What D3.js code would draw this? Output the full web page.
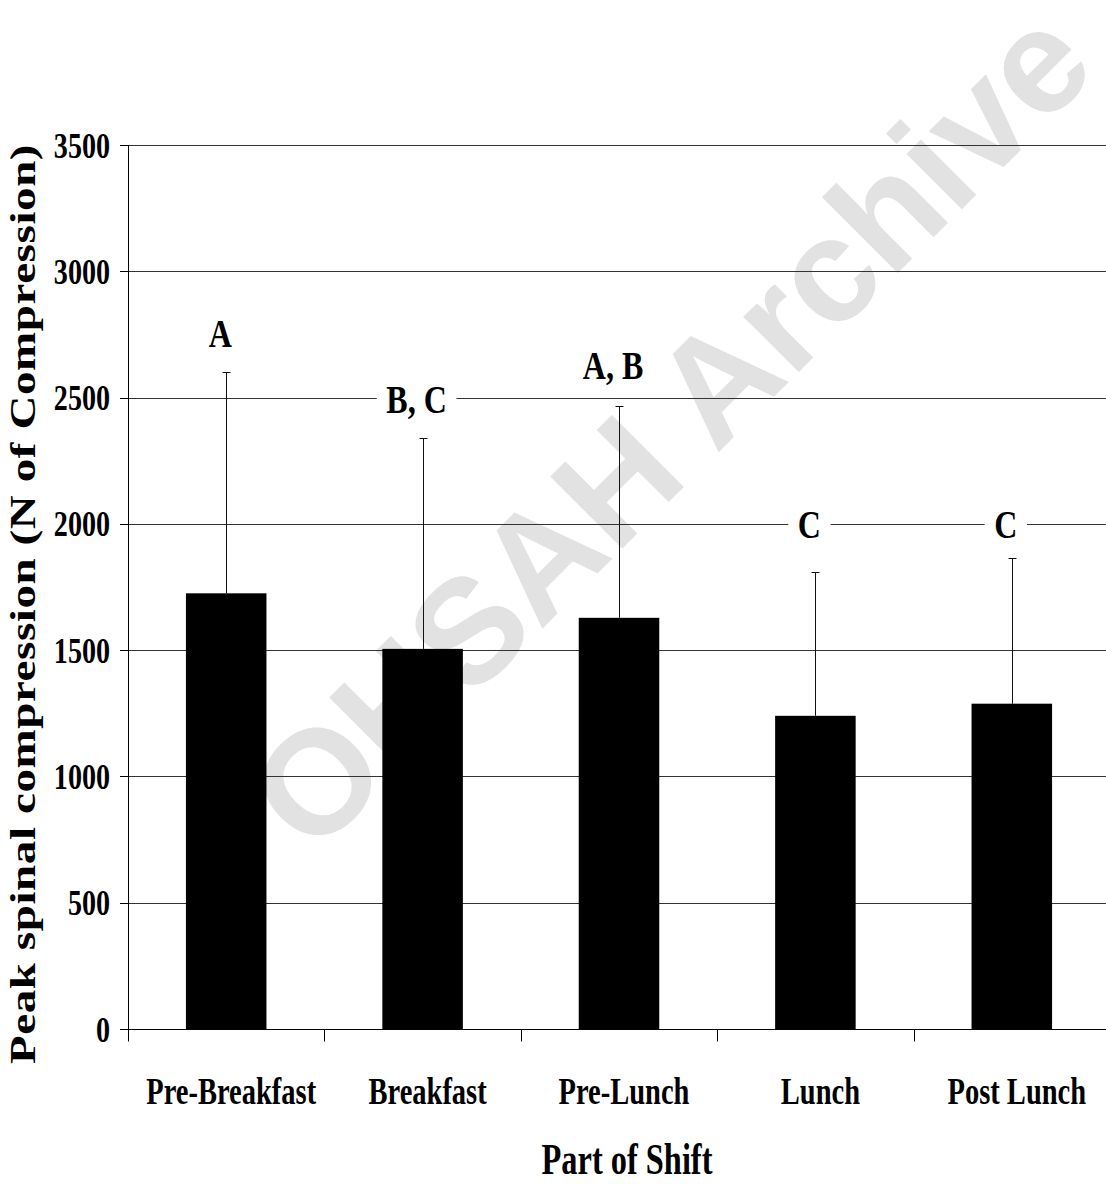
<!DOCTYPE html>
<html>
<head>
<meta charset="utf-8">
<script src="https://cdn.jsdelivr.net/npm/d3@7"></script>
<style>
  html, body { margin: 0; padding: 0; background: #fff; }
  svg { display: block; }
  text { font-family: "Liberation Serif", "Times New Roman", serif; font-weight: bold; fill: #000; }
</style>
</head>
<body>
<div id="chart"></div>
<script>
// data
const categories = ["Pre-Breakfast", "Breakfast", "Pre-Lunch", "Lunch", "Post Lunch"];
const means = [1725, 1505, 1628, 1240, 1288];
const errTops = [2600, 2338, 2467, 1808, 1865];
const letters = ["A", "B, C", "A, B", "C", "C"];
const letterY = [2755, 2495, 2630, 2000, 2000];
const yTicks = [0, 500, 1000, 1500, 2000, 2500, 3000, 3500];

const width = 1106, height = 1184;
const margin = { top: 145, right: -4, bottom: 155, left: 128 };
const sx = 0.75; // glyphs in the picture look squeezed sideways

const svg = d3.select("#chart").append("svg")
    .attr("width", width)
    .attr("height", height);

svg.append("rect").attr("width", width).attr("height", height).attr("fill", "#fff");

// watermark, sits behind everything
svg.append("text")
    .attr("transform", "translate(670,428) rotate(-45)")
    .attr("text-anchor", "middle")
    .attr("dominant-baseline", "central")
    .style("font-family", "'Liberation Sans', Arial, sans-serif")
    .style("font-weight", "bold")
    .style("font-size", "148px")
    .style("fill", "#e2e2e2")
    .text("OHSAH Archive");

const x = d3.scaleBand()
    .domain(categories)
    .range([margin.left, width - margin.right])
    .paddingInner(0.59)
    .paddingOuter(0.295);

const y = d3.scaleLinear()
    .domain([0, 3500])
    .range([height - margin.bottom, margin.top]);

// gridlines
svg.append("g").selectAll("line")
    .data(yTicks.filter(d => d > 0))
    .join("line")
    .attr("x1", margin.left).attr("x2", width)
    .attr("y1", d => Math.round(y(d)) + 0.5).attr("y2", d => Math.round(y(d)) + 0.5)
    .attr("stroke", "#333").attr("stroke-width", 1);

// error bars (upper only)
const err = svg.append("g").attr("stroke", "#111").attr("stroke-width", 1);
categories.forEach((c, i) => {
    const cx = Math.round(x(c) + x.bandwidth() / 2) + 0.5;
    err.append("line").attr("x1", cx).attr("x2", cx)
        .attr("y1", y(means[i])).attr("y2", Math.round(y(errTops[i])) + 0.5);
    err.append("line").attr("x1", cx - 4).attr("x2", cx + 4)
        .attr("y1", Math.round(y(errTops[i])) + 0.5).attr("y2", Math.round(y(errTops[i])) + 0.5);
});

// bars
svg.append("g").selectAll("rect")
    .data(categories)
    .join("rect")
    .attr("x", d => x(d))
    .attr("width", x.bandwidth())
    .attr("y", (d, i) => y(means[i]))
    .attr("height", (d, i) => y(0) - y(means[i]))
    .attr("fill", "#000");

// y axis
const y0 = Math.round(y(0)) + 0.5;
svg.append("line")
    .attr("x1", margin.left + 0.5).attr("x2", margin.left + 0.5)
    .attr("y1", margin.top).attr("y2", y0 + 12)
    .attr("stroke", "#000");
svg.append("line")
    .attr("x1", margin.left).attr("x2", width)
    .attr("y1", y0).attr("y2", y0)
    .attr("stroke", "#000");

const yt = svg.append("g");
yTicks.forEach(t => {
    const ty = Math.round(y(t)) + 0.5;
    yt.append("line").attr("x1", margin.left - 8).attr("x2", margin.left)
        .attr("y1", ty).attr("y2", ty).attr("stroke", "#000");
    yt.append("text")
        .attr("transform", `translate(110,${y(t)}) scale(0.78,1)`)
        .attr("text-anchor", "end")
        .attr("dy", "0.35em")
        .style("font-size", "36px")
        .text(t);
});

// x ticks between categories
svg.append("g").selectAll("line")
    .data(categories.slice(1))
    .join("line")
    .attr("x1", d => Math.round(x(d) - x.step() * x.paddingInner() / 2) + 0.5)
    .attr("x2", d => Math.round(x(d) - x.step() * x.paddingInner() / 2) + 0.5)
    .attr("y1", y0).attr("y2", y0 + 12)
    .attr("stroke", "#000");

// category labels
svg.append("g").selectAll("text")
    .data(categories)
    .join("text")
    .attr("transform", d => `translate(${x(d) + x.bandwidth() / 2 + 5},1104) scale(${sx},1)`)
    .attr("text-anchor", "middle")
    .style("font-size", "38px")
    .text(d => d);

// letter groups, white box cuts the gridline
const lab = svg.append("g");
categories.forEach((c, i) => {
    const g = lab.append("g")
        .attr("transform", `translate(${x(c) + x.bandwidth() / 2 - 6},${y(letterY[i])}) scale(0.8,1)`);
    const t = g.append("text")
        .attr("text-anchor", "middle")
        .attr("dy", "0.35em")
        .style("font-size", "40px")
        .text(letters[i]);
    const b = t.node().getBBox();
    g.insert("rect", "text")
        .attr("x", b.x - 12).attr("width", b.width + 24)
        .attr("y", -6).attr("height", 12)
        .attr("fill", "#fff");
});

// axis titles
svg.append("text")
    .attr("transform", `translate(627,1174) scale(0.72,1)`)
    .attr("text-anchor", "middle")
    .style("font-size", "45px")
    .text("Part of Shift");

svg.append("text")
    .attr("transform", `translate(35,604) scale(0.76,1) rotate(-90)`)
    .attr("text-anchor", "middle")
    .style("font-size", "47px")
    .style("letter-spacing", "0.6px")
    .text("Peak spinal compression (N of Compression)");
</script>
</body>
</html>
